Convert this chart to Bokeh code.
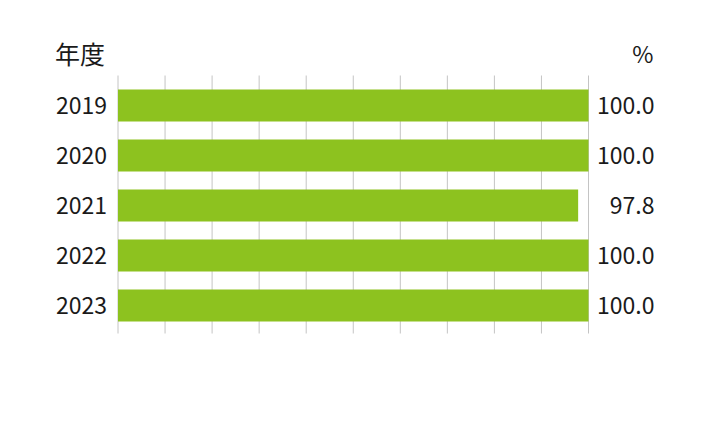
from bokeh.plotting import figure
from bokeh.models import ColumnDataSource, Range1d
from bokeh.core.properties import value
from bokeh.embed import file_html
from bokeh.resources import INLINE

years = ["2019", "2020", "2021", "2022", "2023"]
values = [100.0, 100.0, 97.8, 100.0, 100.0]
value_labels = ["100.0", "100.0", "97.8", "100.0", "100.0"]
x_ticks = [0, 10, 20, 30, 40, 50, 60, 70, 80, 90, 100]
y_title = "年度"
unit_title = "%"

FONT = value("Noto Sans CJK JP")
NUM_FS = value("23px")
CJK_FS = value("25px")
BAR = "#8dc21f"
TXT = "#1a1a1a"
GRID = "#c4c4c4"

# layout (pixels)
W, H = 693, 407
PX0 = 117.5          # pixel of x = 0
PPU = 4.705          # pixels per x unit
PY0 = 105.0          # pixel centre of first row
PITCH = 50.0         # pixels per row

idx = list(range(len(years)))
src = ColumnDataSource(dict(i=idx, y=years, v=values, lab=value_labels,
                            zero=[0] * len(years),
                            xmax=[max(x_ticks)] * len(years)))

p = figure(width=W, height=H, output_backend="svg", toolbar_location=None,
           x_range=Range1d(-PX0 / PPU, (W - PX0) / PPU),
           y_range=Range1d((H - PY0) / PITCH, -PY0 / PITCH),
           min_border=0, min_border_left=0, min_border_right=0,
           min_border_top=0, min_border_bottom=0)
p.axis.visible = False
p.grid.visible = False
p.outline_line_color = None
p.background_fill_color = "white"
p.border_fill_color = "white"

# vertical grid lines
g_top = idx[0] - 0.6
g_bot = idx[-1] + 0.56
p.segment(x0=x_ticks, x1=x_ticks, y0=[g_top] * len(x_ticks),
          y1=[g_bot] * len(x_ticks), line_color=GRID, line_width=1)

p.hbar(y="i", left="zero", right="v", height=0.64, source=src,
       fill_color=BAR, line_color=None)

# year labels
p.text(x="zero", y="i", text="y", source=src, x_offset=-11,
       text_align="right", text_baseline="middle",
       text_font=FONT, text_font_size=NUM_FS, text_color=TXT)
# value labels
p.text(x="xmax", y="i", text="lab", source=src, x_offset=66,
       text_align="right", text_baseline="middle",
       text_font=FONT, text_font_size=NUM_FS, text_color=TXT)

title_y = idx[0] - 1.06
p.text(x=[0], y=[title_y], text=[y_title], x_offset=-63,
       text_align="left", text_baseline="middle",
       text_font=FONT, text_font_size=CJK_FS, text_color=TXT)
p.text(x=[max(x_ticks)], y=[title_y], text=[unit_title], x_offset=65,
       text_align="right", text_baseline="middle",
       text_font=FONT, text_font_size=NUM_FS, text_color=TXT)

open("out.html", "w").write(file_html(p, INLINE))
